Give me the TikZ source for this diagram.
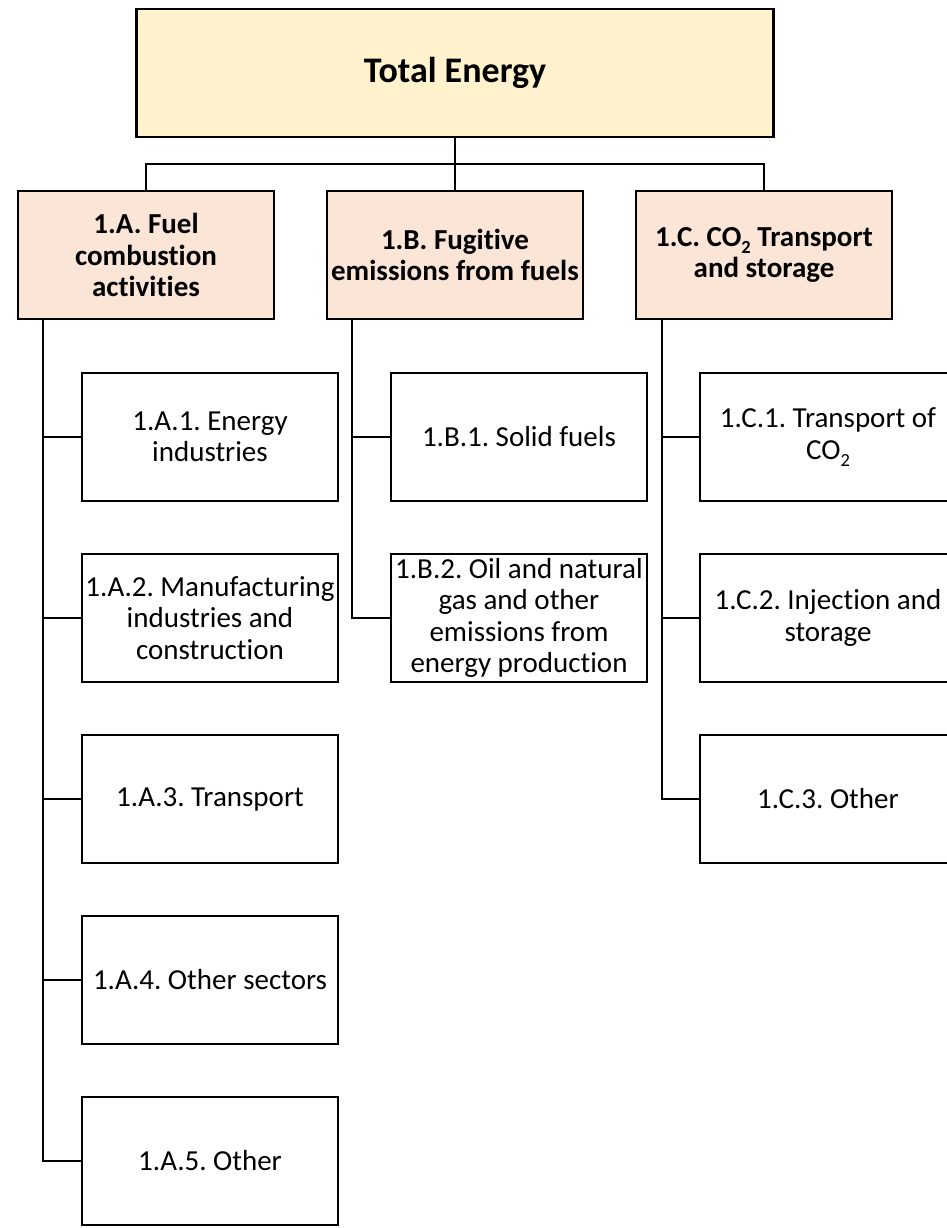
\documentclass[tikz,border=0pt]{standalone}
\usepackage{fontspec}
\setmainfont{Carlito}[Ligatures={NoCommon,NoDiscretionary}, Contextuals=NoAlternate]
\usetikzlibrary{positioning}

\definecolor{totalfill}{HTML}{FFF2CC}
\definecolor{catfill}{HTML}{FBE5D6}

\newcommand{\lowtwo}{\raisebox{-0.24em}{\fontsize{18.5}{18.5}\selectfont 2}}

\begin{document}
\frenchspacing
\begin{tikzpicture}[
  x=1pt, y=1pt,
  box/.style={draw, line width=2.7pt, align=center, inner sep=2pt, outer sep=0pt},
  topbox/.style={box, fill=totalfill, minimum width=637pt, minimum height=128pt, font=\fontsize{36}{43}\selectfont\bfseries},
  catbox/.style={box, fill=catfill, minimum width=256pt, minimum height=128pt, font=\fontsize{29}{31.5}\selectfont\bfseries},
  subbox/.style={box, fill=white, minimum width=256pt, minimum height=128pt, font=\fontsize{29}{31.5}\selectfont},
  link/.style={line width=2.7pt}
]
\useasboundingbox (0,0) rectangle (946,-1228);

% Nodes
\node[topbox] (total) at (455,-73) {Total Energy};
\node[catbox, below=54pt of total] (fugitive) {1.B. Fugitive\\emissions from fuels};
\node[catbox, left=53pt of fugitive] (fuel) {1.A. Fuel\\combustion\\activities};
\node[catbox, right=53pt of fugitive] (ccs) {1.C. CO\lowtwo{} Transport\\and storage};

\node[subbox, below right=54pt and 64pt of fuel.south west] (a1) {1.A.1. Energy\\industries};
\node[subbox, below=53pt of a1] (a2) {1.A.2. Manufacturing\\industries and\\construction};
\node[subbox, below=53pt of a2] (a3) {1.A.3. Transport};
\node[subbox, below=53pt of a3] (a4) {1.A.4. Other sectors};
\node[subbox, below=53pt of a4] (a5) {1.A.5. Other};

\node[subbox, below right=54pt and 64pt of fugitive.south west] (b1) {1.B.1. Solid fuels};
\node[subbox, below=53pt of b1] (b2) {1.B.2. Oil and natural\\gas and other\\emissions from\\energy production};

\node[subbox, below right=54pt and 64pt of ccs.south west] (c1) {1.C.1. Transport of\\CO\lowtwo};
\node[subbox, below=53pt of c1] (c2) {1.C.2. Injection and\\storage};
\node[subbox, below=53pt of c2] (c3) {1.C.3. Other};

\coordinate (fueltrunk) at ([xshift=25pt]fuel.south west);
\coordinate (fugitivetrunk) at ([xshift=25pt]fugitive.south west);
\coordinate (ccstrunk) at ([xshift=26pt]ccs.south west);

% Links
\draw[link] (total) -- (fugitive);
\draw[link] (fuel.north) -- ++(0,27) -| (ccs.north);

\draw[link] (fueltrunk) |- (a5.west);
\foreach \n in {a1,a2,a3,a4}
  \draw[link] (\n.west) -- (\n.west -| fueltrunk);

\draw[link] (fugitivetrunk) |- (b2.west);
\draw[link] (b1.west) -- (b1.west -| fugitivetrunk);

\draw[link] (ccstrunk) |- (c3.west);
\foreach \n in {c1,c2}
  \draw[link] (\n.west) -- (\n.west -| ccstrunk);

\end{tikzpicture}
\end{document}
